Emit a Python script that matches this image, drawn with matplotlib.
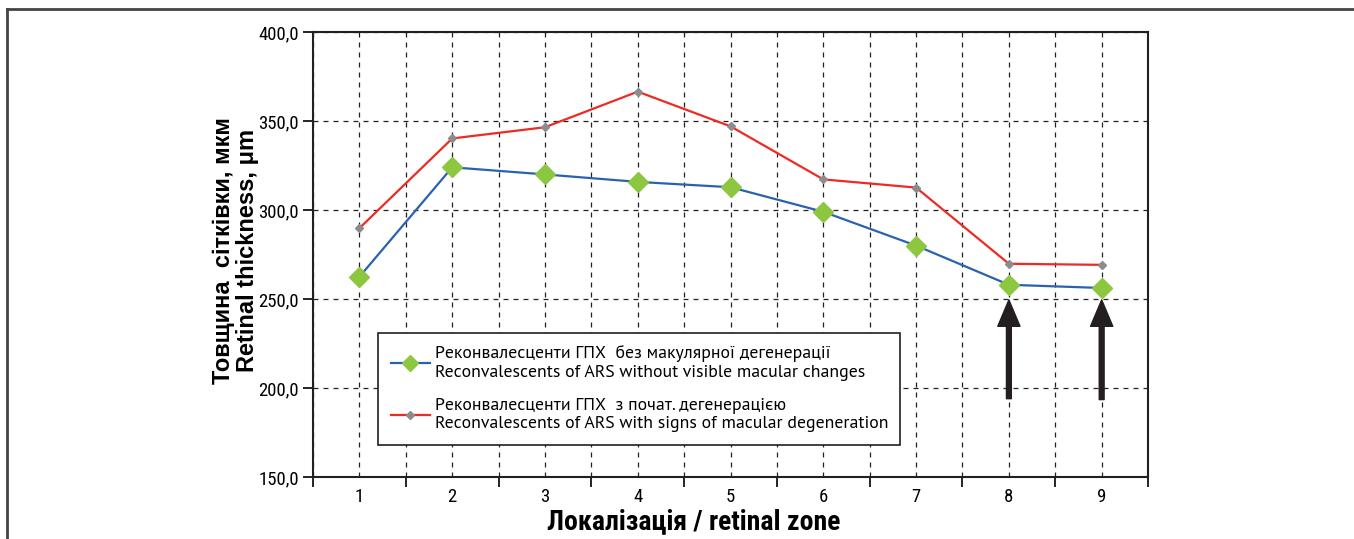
import matplotlib
matplotlib.use("Agg")
import matplotlib.pyplot as plt
from matplotlib.lines import Line2D
from matplotlib.ticker import FuncFormatter

# data
zones = [1, 2, 3, 4, 5, 6, 7, 8, 9]
no_changes = [262.5, 324.0, 320.0, 315.8, 312.8, 299.0, 280.0, 258.0, 256.2]
degeneration = [289.8, 340.2, 346.5, 366.5, 347.0, 317.2, 312.6, 269.8, 269.2]
arrow_zones = [8, 9]
arrow_base = [194.0, 193.5]
arrow_tip = [249.5, 249.5]

label_no = "Реконвалесценти ГПХ  без макулярної дегенерації\nReconvalescents of ARS without visible macular changes"
label_deg = "Реконвалесценти ГПХ  з почат. дегенерацією\nReconvalescents of ARS with signs of macular degeneration"
ylabel = "Товщина  сітківки, мкм\nRetinal thickness, μm"
xlabel = "Локалізація / retinal zone"

plt.rcParams['font.family'] = ['Roboto Condensed', 'DejaVu Sans']

fig = plt.figure(figsize=(13.54, 5.39), dpi=100)
ax = fig.add_axes([0.2312, 0.115, 0.6167, 0.8256])

ax.plot(zones, no_changes, color='#2a62b0', lw=1.6, marker='D', ms=10,
        mfc='#8dc63f', mec='#8dc63f', label=label_no, zorder=4)
ax.plot(zones, degeneration, color='#ee2a24', lw=1.6, marker='D', ms=4.5,
        mfc='#8c8c8c', mec='#8c8c8c', label=label_deg, zorder=4)

for z, b, t in zip(arrow_zones, arrow_base, arrow_tip):
    ax.annotate("", xy=(z, t), xytext=(z, b),
                arrowprops=dict(facecolor='#231f20', edgecolor='#231f20',
                                width=3.5, headwidth=16, headlength=19), zorder=5)

ax.set_xlim(0.5, 9.5)
ax.set_ylim(150, 400)
ax.set_yticks([150, 200, 250, 300, 350, 400])
ax.yaxis.set_major_formatter(FuncFormatter(lambda v, p: f"{v:.1f}".replace('.', ',')))
ax.set_xticks(zones)
ax.set_xticks([z + 0.5 for z in [0] + zones], minor=True)
ax.tick_params(axis='x', which='major', length=0, pad=8, labelsize=13.5)
ax.tick_params(axis='x', which='minor', length=7, width=1.2, direction='out')
ax.tick_params(axis='y', length=7, width=1.2, labelsize=13.5, pad=3)

ax.grid(True, which='major', axis='both', color='#222222', ls=(0, (4, 4)), lw=0.9)
ax.grid(True, which='minor', axis='x', color='#222222', ls=(0, (4, 4)), lw=0.9)
for s in ax.spines.values():
    s.set_linewidth(1.5)
    s.set_color('#231f20')

leg = ax.legend(loc='upper left', bbox_to_anchor=(0.078, 0.0, 0.625, 0.3236),
                mode='expand', fancybox=False, framealpha=1, edgecolor='#231f20',
                prop={'family': ['PT Sans', 'DejaVu Sans'], 'size': 12.8},
                handlelength=2.2, borderpad=0.7, labelspacing=0.95,
                handletextpad=0.3, borderaxespad=0, markerscale=0.8)
leg.get_frame().set_linewidth(1.2)

fig.text(0.174, 0.536, ylabel, rotation=90, ha='center', va='center',
         fontsize=17, fontweight='bold', family=['Liberation Sans', 'DejaVu Sans'],
         linespacing=1.1)
fig.text(0.5125, 0.032, xlabel, ha='center', va='center', fontsize=20,
         fontweight='bold')

# outer frame (top and left only)
fig.add_artist(Line2D([0.0052, 1.0], [0.9833, 0.9833], color='#444444', lw=2))
fig.add_artist(Line2D([0.0052, 0.0052], [0.0, 0.9833], color='#444444', lw=2))

fig.savefig("out.png", dpi=100)
